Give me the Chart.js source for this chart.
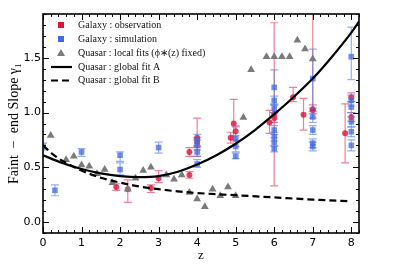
<!DOCTYPE html>
<html>
<head>
<meta charset="utf-8">
<script src="https://cdn.jsdelivr.net/npm/chart.js@4.4.0/dist/chart.umd.min.js"></script>
<style>
  body { margin: 0; background: #fff; }
  #wrap { width: 399px; height: 266px; }
</style>
</head>
<body>
<div id="wrap"><canvas id="slopeChart" width="399" height="266"></canvas></div>
<script>
// quasar local fits (gray triangles)
const quasarZ = [0.2, 0.6, 0.8, 1.0, 1.2, 1.4, 1.6, 1.8, 2.2, 2.4, 2.6, 2.8, 3.2, 3.4, 3.6, 3.8, 4.0, 4.2, 4.4, 4.6, 4.8, 5.0, 5.2, 5.4, 5.8, 6.0, 6.2, 6.4, 6.6, 6.8, 7.0];
const quasarSlope = [0.79, 0.57, 0.6, 0.52, 0.51, 0.44, 0.48, 0.36, 0.3, 0.4, 0.47, 0.5, 0.43, 0.39, 0.43, 0.27, 0.21, 0.14, 0.3, 0.24, 0.32, 0.24, 0.955, 1.39, 1.51, 1.51, 1.51, 1.51, 1.66, 1.58, 1.49];

// global fits
const fitAZ = [0, 0.5, 1, 1.5, 2, 2.5, 3, 3.5, 4, 4.5, 5, 5.5, 6, 6.5, 7, 7.5, 8, 8.2];
const fitAY = [0.61, 0.54, 0.485, 0.445, 0.42, 0.41, 0.42, 0.46, 0.525, 0.61, 0.715, 0.84, 0.985, 1.14, 1.31, 1.51, 1.73, 1.83];
const fitBZ = [0, 0.25, 0.5, 1, 1.5, 2, 2.5, 3, 3.5, 4, 5, 6, 7, 8];
const fitBY = [0.7, 0.62, 0.56, 0.47, 0.405, 0.36, 0.325, 0.3, 0.28, 0.265, 0.245, 0.225, 0.205, 0.19];

// galaxy observations (red)
const obsZ = [1.9, 2.2, 2.8, 3.0, 3.8, 3.8, 4.0, 4.0, 4.95, 4.87, 5.0, 6.0, 6.0, 5.88, 6.49, 7.0, 7.0, 6.76, 8.0, 8.0, 7.84];
const obsSlope = [0.32, 0.3, 0.31, 0.4, 0.64, 0.43, 0.77, 0.73, 0.9, 0.77, 0.83, 0.99, 0.95, 0.91, 1.14, 1.03, 1.02, 0.98, 1.14, 0.96, 0.81];
const obsLow = [0.29, 0.18, 0.27, 0.36, 0.6, 0.4, 0.6, 0.69, 0.75, 0.72, 0.79, 0.33, 0.91, 0.81, 1.1, 0.95, 0.99, 0.84, 1.1, 0.92, 0.54];
const obsHigh = [0.35, 0.385, 0.34, 0.47, 0.68, 0.46, 0.95, 0.77, 1.12, 0.82, 0.87, 1.82, 1.0, 1.02, 1.23, 2.1, 1.07, 1.13, 1.18, 1.0, 1.08];

// galaxy simulations (blue)
const simZ = [0, 0.31, 1, 2, 2, 3, 4, 4, 4, 4, 5, 5, 5, 6, 6, 6, 6, 6, 6, 6, 7, 7, 7, 7, 7, 8, 8, 8, 8, 8, 8];
const simSlope = [0.69, 0.29, 0.64, 0.61, 0.48, 0.68, 0.75, 0.7, 0.64, 0.53, 0.76, 0.69, 0.6, 1.23, 1.11, 1.04, 0.84, 0.78, 0.73, 0.67, 1.31, 0.96, 0.84, 0.72, 0.69, 1.51, 1.11, 1.05, 0.915, 0.825, 0.7];
const simLow = [0.66, 0.24, 0.6, 0.555, 0.43, 0.63, 0.7, 0.66, 0.6, 0.5, 0.69, 0.64, 0.58, 1.07, 1.07, 1.0, 0.8, 0.74, 0.69, 0.64, 1.04, 0.91, 0.8, 0.68, 0.65, 1.3, 1.06, 1.0, 0.87, 0.78, 0.65];
const simHigh = [0.72, 0.34, 0.67, 0.64, 0.54, 0.73, 0.8, 0.75, 0.68, 0.57, 0.88, 0.74, 0.63, 1.39, 1.15, 1.08, 0.88, 0.82, 0.77, 0.7, 1.58, 1.01, 0.88, 0.76, 0.73, 1.78, 1.16, 1.1, 0.96, 0.87, 0.75];

// axis ticks
const xMajor = [0, 1, 2, 3, 4, 5, 6, 7, 8];
const yMajor = [0, 0.5, 1.0, 1.5];

const RED = "rgba(220,20,60,0.8)";
const RED_ERR = "rgba(230,60,100,0.65)";
const BLUE = "rgba(65,105,225,0.75)";
const BLUE_ERR = "rgba(80,120,230,0.6)";
const GRAY = "#7a7a7a";

const toPoints = (xs, ys) => xs.map((x, i) => ({ x: x, y: ys[i] }));

const errorBars = {
  id: "errorBars",
  beforeDatasetDraw(chart, args) {
    const ds = chart.data.datasets[args.index];
    if (!ds.errLow) return;
    const ctx = chart.ctx;
    const area = chart.chartArea;
    const xs = chart.scales.x;
    const ys = chart.scales.y;
    ctx.save();
    ctx.beginPath();
    ctx.rect(area.left, area.top, area.right - area.left, area.bottom - area.top);
    ctx.clip();
    ctx.strokeStyle = ds.errColor;
    ctx.lineWidth = 1.2;
    ds.data.forEach((p, i) => {
      const px = xs.getPixelForValue(p.x);
      const lo = ys.getPixelForValue(ds.errLow[i]);
      const hi = ys.getPixelForValue(ds.errHigh[i]);
      ctx.beginPath();
      ctx.moveTo(px, lo);
      ctx.lineTo(px, hi);
      ctx.moveTo(px - 4, lo);
      ctx.lineTo(px + 4, lo);
      ctx.moveTo(px - 4, hi);
      ctx.lineTo(px + 4, hi);
      ctx.stroke();
    });
    ctx.restore();
  },
};

// frame with inward ticks on all four sides
const frameTicks = {
  id: "frameTicks",
  afterDraw(chart) {
    const ctx = chart.ctx;
    const a = chart.chartArea;
    const xs = chart.scales.x;
    const ys = chart.scales.y;
    ctx.save();
    ctx.strokeStyle = "#000";
    ctx.lineWidth = 1;
    ctx.beginPath();
    for (let i = 0; i <= 41; i++) {
      const v = i * 0.2;
      const px = Math.round(xs.getPixelForValue(v)) + 0.5;
      const len = i % 5 === 0 ? 6 : 3;
      ctx.moveTo(px, a.bottom);
      ctx.lineTo(px, a.bottom - len);
      ctx.moveTo(px, a.top);
      ctx.lineTo(px, a.top + len);
    }
    for (let i = -1; i <= 19; i++) {
      const v = i * 0.1;
      const py = Math.round(ys.getPixelForValue(v)) + 0.5;
      const len = i % 5 === 0 ? 6 : 3;
      ctx.moveTo(a.left, py);
      ctx.lineTo(a.left + len, py);
      ctx.moveTo(a.right, py);
      ctx.lineTo(a.right - len, py);
    }
    ctx.stroke();
    ctx.lineWidth = 1.6;
    ctx.strokeRect(a.left, a.top, a.right - a.left, a.bottom - a.top);
    ctx.restore();
  },
};

const legendBox = {
  id: "legendBox",
  afterDraw(chart) {
    const ctx = chart.ctx;
    const rows = [
      { text: "Galaxy : observation", kind: "redSq", y: 25 },
      { text: "Galaxy : simulation", kind: "blueSq", y: 39 },
      { text: "Quasar : local fits (\u03d5\u2217(z) fixed)", kind: "tri", y: 53 },
      { text: "Quasar : global fit A", kind: "solid", y: 67 },
      { text: "Quasar : global fit B", kind: "dash", y: 80.5 },
    ];
    ctx.save();
    ctx.font = "10px 'Liberation Serif'";
    ctx.textBaseline = "middle";
    rows.forEach((r) => {
      const cx = 61;
      if (r.kind === "redSq" || r.kind === "blueSq") {
        ctx.fillStyle = r.kind === "redSq" ? "rgb(220,20,60)" : "rgb(65,105,225)";
        ctx.fillRect(cx - 3, r.y - 3, 6, 6);
      } else if (r.kind === "tri") {
        ctx.fillStyle = GRAY;
        ctx.beginPath();
        ctx.moveTo(cx, r.y - 4);
        ctx.lineTo(cx + 4, r.y + 3);
        ctx.lineTo(cx - 4, r.y + 3);
        ctx.closePath();
        ctx.fill();
      } else {
        ctx.strokeStyle = "#000";
        ctx.lineWidth = 2.2;
        ctx.setLineDash(r.kind === "dash" ? [7, 4] : []);
        ctx.beginPath();
        ctx.moveTo(51, r.y);
        ctx.lineTo(72, r.y);
        ctx.stroke();
        ctx.setLineDash([]);
      }
      ctx.fillStyle = "#111";
      ctx.fillText(r.text, 78, r.y);
    });
    ctx.restore();
  },
};

document.addEventListener("DOMContentLoaded", () => {
  const canvas = document.getElementById("slopeChart");
  new Chart(canvas, {
    type: "scatter",
    data: {
      datasets: [
        {
          label: "Galaxy: observation",
          data: toPoints(obsZ, obsSlope),
          errLow: obsLow,
          errHigh: obsHigh,
          errColor: RED_ERR,
          pointStyle: "circle",
          pointRadius: 3,
          backgroundColor: RED,
          borderWidth: 0,
          order: 4,
        },
        {
          label: "Galaxy: simulation",
          data: toPoints(simZ, simSlope),
          errLow: simLow,
          errHigh: simHigh,
          errColor: BLUE_ERR,
          pointStyle: "rect",
          pointRadius: 4,
          backgroundColor: BLUE,
          borderWidth: 0,
          order: 3,
        },
        {
          label: "Quasar: local fits",
          data: toPoints(quasarZ, quasarSlope),
          pointStyle: "triangle",
          pointRadius: 4.5,
          backgroundColor: GRAY,
          borderWidth: 0,
          order: 2,
        },
        {
          label: "Quasar: global fit A",
          data: toPoints(fitAZ, fitAY),
          showLine: true,
          pointRadius: 0,
          borderColor: "#000",
          borderWidth: 2.2,
          cubicInterpolationMode: "monotone",
          order: 1,
        },
        {
          label: "Quasar: global fit B",
          data: toPoints(fitBZ, fitBY),
          showLine: true,
          pointRadius: 0,
          borderColor: "#000",
          borderWidth: 2.2,
          borderDash: [7, 4],
          cubicInterpolationMode: "monotone",
          order: 0,
        },
      ],
    },
    options: {
      responsive: false,
      animation: false,
      layout: { padding: { left: 0, right: 40, top: 14, bottom: 0 } },
      plugins: {
        legend: { display: false },
        tooltip: { enabled: false },
      },
      scales: {
        x: {
          type: "linear",
          min: 0,
          max: 8.2,
          afterFit: (scale) => { scale.height = 33; },
          afterBuildTicks: (scale) => { scale.ticks = xMajor.map((v) => ({ value: v })); },
          grid: { display: false, drawTicks: false },
          border: { display: false },
          ticks: {
            padding: 4,
            color: "#000",
            font: { family: "DejaVu Sans", size: 11 },
            callback: (v) => String(v),
          },
          title: {
            display: true,
            text: "z",
            color: "#000",
            font: { family: "Liberation Serif", size: 13 },
            padding: { top: 0, bottom: 3 },
          },
        },
        y: {
          type: "linear",
          min: -0.1,
          max: 1.9,
          afterFit: (scale) => { scale.width = 43; },
          afterBuildTicks: (scale) => { scale.ticks = yMajor.map((v) => ({ value: v })); },
          grid: { display: false, drawTicks: false },
          border: { display: false },
          ticks: {
            padding: 2,
            color: "#000",
            font: { family: "DejaVu Sans", size: 11 },
            callback: (v) => v.toFixed(1),
          },
          title: {
            display: true,
            text: "Faint  \u2212  end Slope \u03b3\u2081",
            color: "#000",
            font: { family: "Liberation Serif", size: 14 },
            padding: { top: 6, bottom: 0 },
          },
        },
      },
    },
    plugins: [errorBars, frameTicks, legendBox],
  });
});
</script>
</body>
</html>
